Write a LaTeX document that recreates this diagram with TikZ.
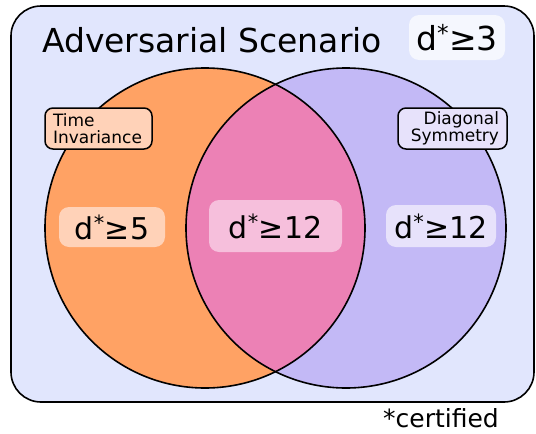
\documentclass[tikz,border=0pt]{standalone}
\usepackage{fontspec}
\setmainfont{DejaVu Sans}
\usetikzlibrary{positioning}

\definecolor{scenefill}{HTML}{E1E6FD}
\definecolor{timefill}{HTML}{FFA264}
\definecolor{symfill}{HTML}{C3B9F6}
\definecolor{bothfill}{HTML}{EC81B5}
\definecolor{timelight}{HTML}{FFD2B8}
\definecolor{symlight}{HTML}{E7E2FB}
\definecolor{bothlight}{HTML}{F6BFDC}
\definecolor{scenelight}{HTML}{F5F7FE}

\begin{document}
\begin{tikzpicture}[x=1pt,y=-1pt,
propbox/.style={rectangle, draw=black, line width=1.5pt, rounded corners=8pt, inner xsep=8pt, inner ysep=0pt, minimum height=41pt, font=\fontsize{17}{17}\selectfont},
valuebox/.style={rectangle, rounded corners=10pt, inner sep=0pt, font=\fontsize{30}{36}\selectfont},
]
\useasboundingbox (0,0) rectangle (536,434);
%%% background
\draw[fill=scenefill, line width=1.6pt, rounded corners=30pt] (11,6) rectangle (534,402);
%% circles
\fill[timefill] (205,228) circle (160);
\fill[symfill] (346,228) circle (160);
\begin{scope}
\clip (205,228) circle (160);
\fill[bothfill] (346,228) circle (160);
\end{scope}
\draw[line width=1.6pt] (205,228) circle (160);
\draw[line width=1.6pt] (346,228) circle (160);
%%% labels
\node[anchor=base west, inner sep=0pt, font=\fontsize{33}{40}\selectfont] (title) at (42,52) {Adversarial Scenario};
\node[valuebox, fill=scenelight, minimum width=96pt, minimum height=45pt, font=\fontsize{33}{40}\selectfont] (all) at (457,37.5) {d\textsuperscript{*}≥3};
\node[propbox, fill=timelight, text width=91pt, align=left] (time) at (98.5,128.5) {Time\\Invariance};
\node[propbox, fill=symlight, text width=93pt, align=right] (sym) at (452.5,128.5) {Diagonal\\Symmetry};
\node[valuebox, fill=timelight, minimum width=106pt, minimum height=40pt] (timeonly) at (112,227) {d\textsuperscript{*}≥5};
\node[valuebox, fill=bothlight, minimum width=133pt, minimum height=52pt] (both) at (275.5,226) {d\textsuperscript{*}≥12};
\node[valuebox, fill=symlight, minimum width=110pt, minimum height=42pt] (symonly) at (441,226) {d\textsuperscript{*}≥12};
\node[anchor=base west, inner sep=0pt, font=\fontsize{25}{30}\selectfont] (note) at (383,427) {*certified};
\end{tikzpicture}
\end{document}
